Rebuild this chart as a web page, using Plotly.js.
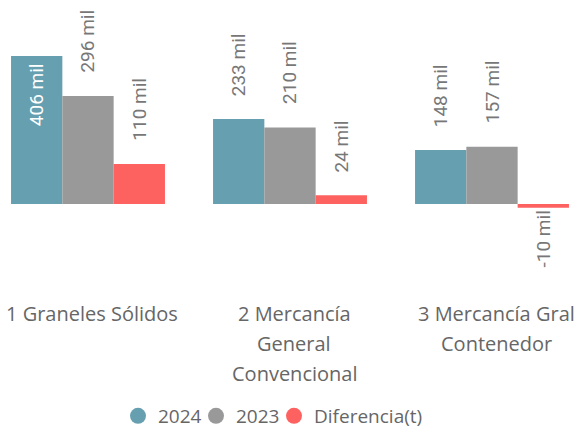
<!DOCTYPE html>
<html>
<head>
<meta charset="utf-8">
<script src="https://cdn.plot.ly/plotly-3.0.1.min.js"></script>
<style>
  html, body { margin: 0; padding: 0; background: #ffffff; }
  #chart { width: 574px; height: 429px; }
</style>
</head>
<body>
<div id="chart"></div>
<script>
// ---- data ----
const categories = ['1 Graneles Sólidos', '2 Mercancía General Convencional', '3 Mercancía Gral Contenedor'];
const tickLabelLines = [
  ['1 Graneles Sólidos'],
  ['2 Mercancía', 'General', 'Convencional'],
  ['3 Mercancía Gral', 'Contenedor']
];
const seriesNames = ['2024', '2023', 'Diferencia(t)'];
const values2024 = [406, 233, 148];
const values2023 = [296, 210, 157];
const valuesDiff = [110, 24, -10];
const labelUnit = ' mil';

// ---- style ----
const W = 574, H = 429;
const colors = ['#669FB0', '#999999', '#FD6260'];
const axisFont = 'Open Sans, Noto Sans, sans-serif';
const labelFont = 'Roboto, DejaVu Sans, sans-serif';
const allSeries = [values2024, values2023, valuesDiff];
const maxVal = Math.max(...allSeries.flat());

// scale: baseline at px ~204, 406 -> 148 px
const baselinePx = 204;
const pxPerUnit = 148 / 406;
const yMax = baselinePx / pxPerUnit;
const yMin = -(H - baselinePx) / pxPerUnit;
// category centres at 88 + 202*i px
const catSpacing = 202, firstCentre = 88;
const xMin = -firstCentre / catSpacing;
const xMax = (W - firstCentre) / catSpacing;
const bargap = 0.238;
const barW = (1 - bargap) / 3;
const legendWidths = [33, 33, 130];

const traces = [];
allSeries.forEach((vals, s) => {
  traces.push({
    type: 'bar',
    x: categories,
    y: vals,
    name: seriesNames[s],
    marker: { color: colors[s], line: { width: 0 } },
    showlegend: false,
    hoverinfo: 'none'
  });
});
// legend entries with circle symbols
seriesNames.forEach((n, s) => {
  traces.push({
    type: 'scatter',
    mode: 'markers',
    x: [null], y: [null],
    name: n,
    legendwidth: legendWidths[s],
    marker: { color: colors[s], size: 16, symbol: 'circle' },
    showlegend: true,
    hoverinfo: 'none'
  });
});

const annotations = [];
// value labels
allSeries.forEach((vals, s) => {
  vals.forEach((v, i) => {
    const xPos = i + (s - 1) * barW;
    const inside = v / maxVal > 0.9;
    const txt = v + labelUnit;
    if (inside) {
      annotations.push({ x: xPos, y: v, xref: 'x', yref: 'y', text: txt, showarrow: false,
        textangle: -90, xanchor: 'center', yanchor: 'top', yshift: -5,
        font: { family: labelFont, size: 19, color: '#ffffff' } });
    } else if (v >= 0) {
      annotations.push({ x: xPos, y: v, xref: 'x', yref: 'y', text: txt, showarrow: false,
        textangle: -90, xanchor: 'center', yanchor: 'bottom', yshift: 21,
        font: { family: labelFont, size: 19, color: '#777777' } });
    } else {
      annotations.push({ x: xPos, y: v, xref: 'x', yref: 'y', text: txt, showarrow: false,
        textangle: -90, xanchor: 'center', yanchor: 'top', yshift: -1,
        font: { family: labelFont, size: 19, color: '#777777' } });
    }
  });
});
// category labels
tickLabelLines.forEach((lines, i) => {
  lines.forEach((ln, j) => {
    annotations.push({ x: i, y: 1 - 313 / H, xref: 'x', yref: 'paper', text: ln, showarrow: false,
      xanchor: 'center', yanchor: 'middle', xshift: 4, yshift: -30 * j,
      font: { family: axisFont, size: 20, color: '#666666' } });
  });
});

const layout = {
  width: W, height: H,
  margin: { l: 0, r: 0, t: 0, b: 0, pad: 0, autoexpand: false },
  paper_bgcolor: '#ffffff', plot_bgcolor: '#ffffff',
  barmode: 'group', bargap: bargap, bargroupgap: 0,
  xaxis: { type: 'category', range: [xMin, xMax], showgrid: false, zeroline: false,
           showticklabels: false, showline: false, ticks: '', fixedrange: true, automargin: false },
  yaxis: { range: [yMin, yMax], visible: false, showgrid: false, zeroline: false, fixedrange: true, automargin: false },
  showlegend: true,
  legend: { orientation: 'h', x: (143 - 25) / W, xanchor: 'left', y: 1 - 416 / H, yanchor: 'middle',
            font: { family: axisFont, size: 19, color: '#666666' }, itemsizing: 'trace',
            bgcolor: 'rgba(0,0,0,0)' },
  annotations: annotations
};

Plotly.newPlot('chart', traces, layout, { displayModeBar: false, staticPlot: true });
</script>
</body>
</html>
